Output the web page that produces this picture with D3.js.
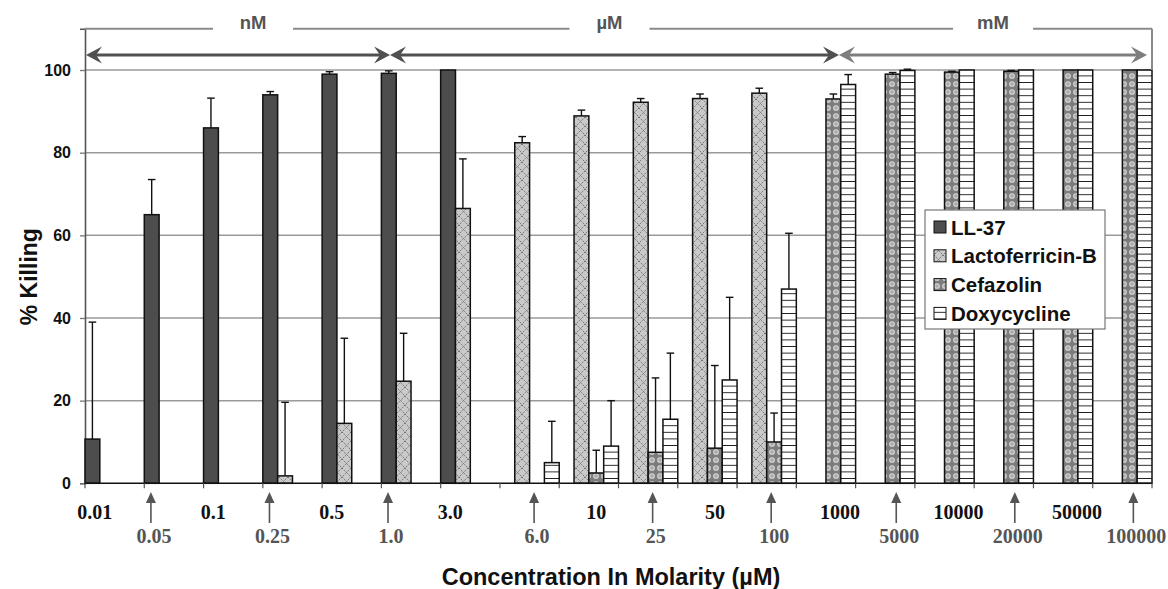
<!DOCTYPE html>
<html><head><meta charset="utf-8">
<script src="https://cdn.jsdelivr.net/npm/d3@7"></script>
<style>html,body{margin:0;padding:0;background:#fff;}svg{display:block;}</style>
</head><body>
<svg id="chart" width="1168" height="589"></svg>
<script>
// ---- data ----
const concentrations = ["0.01","0.05","0.1","0.25","0.5","1.0","3.0","6.0","10","25","50","100","1000","5000","10000","20000","50000","100000"];
const seriesNames = ["LL-37","Lactoferricin-B","Cefazolin","Doxycycline"];
const ll37      = [10.7, 65, 86, 94, 99, 99.2, 100, null, null, null, null, null, null, null, null, null, null, null];
const ll37Err   = [28.3, 8.5, 7.2, 0.8, 0.6, 0.6, 0, null, null, null, null, null, null, null, null, null, null, null];
const lacto     = [null, null, null, 1.8, 14.5, 24.7, 66.5, 82.4, 88.9, 92.2, 93.1, 94.4, null, null, null, null, null, null];
const lactoErr  = [null, null, null, 17.8, 20.6, 11.6, 12, 1.5, 1.4, 0.9, 1.1, 1.2, null, null, null, null, null, null];
const cefa      = [null, null, null, null, null, null, null, null, 2.5, 7.5, 8.5, 10, 93, 99, 99.5, 99.7, 100, 100];
const cefaErr   = [null, null, null, null, null, null, null, null, 5.5, 18, 20, 7, 1.2, 0.4, 0.2, 0.2, 0, 0];
const doxy      = [null, null, null, null, null, null, null, 5, 9, 15.5, 25, 47, 96.5, 99.9, 100, 100, 100, 100];
const doxyErr   = [null, null, null, null, null, null, null, 10, 11, 16, 20, 13.5, 2.4, 0.3, 0, 0, 0, 0];
const yTicks = [0, 20, 40, 60, 80, 100];
const unitRanges = [
  {unit: "nM", from: null, to: "1.0"},
  {unit: "\u00b5M", from: "1.0", to: "1000"},
  {unit: "mM", from: "1000", to: null}
];
const xTitle = "Concentration In Molarity (\u00b5M)";
const yTitle = "% Killing";

// ---- layout ----
const svg = d3.select("#chart");
const pLeft = 85, pRight = 1152, pTop = 28.7, pBottom = 483.3;
const x = d3.scaleBand().domain(concentrations).range([pLeft, pRight]).padding(0);
const xs = d3.scaleBand().domain(seriesNames).range([0, x.bandwidth()]).padding(0);
const y = d3.scaleLinear().domain([0, 110]).range([pBottom, pTop]);

// patterns
const defs = svg.append("defs");
const pL = defs.append("pattern").attr("id","pLacto").attr("patternUnits","userSpaceOnUse").attr("width",9).attr("height",9);
pL.append("rect").attr("width",9).attr("height",9).attr("fill","#c9c9c9");
pL.append("path").attr("d","M0,0L9,9M9,0L0,9").attr("stroke","#6a6a6a").attr("stroke-width",0.9).attr("stroke-dasharray","1.5,1");
const pC = defs.append("pattern").attr("id","pCefa").attr("patternUnits","userSpaceOnUse").attr("width",8).attr("height",8);
pC.append("rect").attr("width",8).attr("height",8).attr("fill","#7c7c7c");
pC.append("circle").attr("cx",4).attr("cy",4).attr("r",2.3).attr("fill","#a8a8a8").attr("stroke","#d8d8d8").attr("stroke-width",1.1);
const pD = defs.append("pattern").attr("id","pDoxy").attr("patternUnits","userSpaceOnUse").attr("width",8).attr("height",6.6);
pD.append("rect").attr("width",8).attr("height",6.6).attr("fill","#fff");
pD.append("line").attr("x1",0).attr("x2",8).attr("y1",3.3).attr("y2",3.3).attr("stroke","#222").attr("stroke-width",1);
const fills = {"LL-37":"#4d4d4d","Lactoferricin-B":"url(#pLacto)","Cefazolin":"url(#pCefa)","Doxycycline":"url(#pDoxy)"};

// gridlines
svg.append("g").selectAll("line").data(yTicks.filter(d => d > 0)).join("line")
  .attr("x1", pLeft).attr("x2", pRight).attr("y1", d => y(d)).attr("y2", d => y(d))
  .attr("stroke", "#9a9a9a").attr("stroke-width", 1.5);

// y axis
const yAxis = svg.append("g").attr("transform", `translate(${pLeft},0)`)
  .call(d3.axisLeft(y).tickValues(yTicks).tickSize(5).tickPadding(9).tickFormat(d3.format("d")));
yAxis.select(".domain").attr("stroke","#555").attr("stroke-width",1.6);
yAxis.selectAll(".tick line").attr("stroke","#777").attr("stroke-width",1.3);
yAxis.selectAll(".tick text").attr("font-family","Liberation Sans, Arial, sans-serif").attr("font-weight","bold").attr("font-size",16).attr("fill","#111");

// bars
const series = [
  {name:"LL-37", vals: ll37, errs: ll37Err},
  {name:"Lactoferricin-B", vals: lacto, errs: lactoErr},
  {name:"Cefazolin", vals: cefa, errs: cefaErr},
  {name:"Doxycycline", vals: doxy, errs: doxyErr}
];
const barData = [];
series.forEach(s => s.vals.forEach((v, i) => { if (v != null) barData.push({s: s.name, c: concentrations[i], v, e: s.errs[i]}); }));
const barG = svg.append("g");
barG.selectAll("rect").data(barData).join("rect")
  .attr("x", d => x(d.c) + xs(d.s)).attr("width", xs.bandwidth())
  .attr("y", d => y(d.v)).attr("height", d => y(0) - y(d.v))
  .attr("fill", d => fills[d.s]).attr("stroke", "#111").attr("stroke-width", 1.5);

// error bars (upper only)
const errG = svg.append("g").attr("stroke","#111").attr("stroke-width",1.4);
const errData = barData.filter(d => d.e > 0);
const bx = d => x(d.c) + xs(d.s) + xs.bandwidth()/2;
errG.selectAll("line.v").data(errData).join("line").attr("class","v")
  .attr("x1", bx).attr("x2", bx)
  .attr("y1", d => y(d.v)).attr("y2", d => y(d.v + d.e));
errG.selectAll("line.c").data(errData).join("line").attr("class","c")
  .attr("x1", d => bx(d) - 3.8).attr("x2", d => bx(d) + 3.8)
  .attr("y1", d => y(d.v + d.e)).attr("y2", d => y(d.v + d.e));

// x axis line + ticks at band boundaries
const boundaries = concentrations.map(c => x(c)).concat([pRight]);
svg.append("line").attr("x1", pLeft).attr("x2", pRight).attr("y1", y(0)).attr("y2", y(0)).attr("stroke","#111").attr("stroke-width",1.6);
svg.append("g").selectAll("line").data(boundaries).join("line")
  .attr("x1", d => d).attr("x2", d => d).attr("y1", y(0)).attr("y2", y(0) + 5).attr("stroke","#555").attr("stroke-width",1.2);

// x labels: alternating bold row and arrow row
function regionShift(i){ return i <= 6 ? -20 : (i <= 11 ? 7.5 : 14); }
const labelX = c => x(c) + x.bandwidth()/2 + regionShift(concentrations.indexOf(c));
const lab = svg.append("g").attr("font-family","Liberation Serif, Times New Roman, serif").attr("font-weight","bold").attr("font-size",20).attr("text-anchor","middle");
lab.selectAll("text.a").data(concentrations.filter((c,i) => i % 2 === 0)).join("text").attr("class","a")
  .attr("x", labelX).attr("y", 519).attr("fill","#111").text(d => d);
lab.selectAll("text.b").data(concentrations.filter((c,i) => i % 2 === 1)).join("text").attr("class","b")
  .attr("x", labelX).attr("y", 543).attr("fill","#555").text(d => d);
const arrG = svg.append("g");
concentrations.filter((c,i) => i % 2 === 1).forEach(c => {
  const cx = labelX(c) - 3;
  arrG.append("line").attr("x1", cx).attr("x2", cx).attr("y1", 523).attr("y2", 500).attr("stroke","#555").attr("stroke-width",1.6);
  arrG.append("path").attr("d", `M${cx},${492}L${cx-5},${503}L${cx+5},${503}Z`).attr("fill","#555");
});

// header frame and unit arrows
const hdrY = y(110), arrY = 55;
const textFont = "Liberation Sans, Arial, sans-serif";
const spans = unitRanges.map(u => ({unit: u.unit,
  x0: u.from ? labelX(u.from) - 1 : pLeft + 1,
  x1: u.to ? labelX(u.to) - 1 : pRight - 5}));
const hdr = svg.append("g");
let segStart = pLeft;
const gaps = spans.map(s => { const cx = (s.x0 + s.x1)/2 + (s.unit === "nM" ? 15 : (s.unit === "mM" ? 0 : -5)); return {cx, w: 80, unit: s.unit}; });
gaps.forEach(g => {
  hdr.append("line").attr("x1", segStart).attr("x2", g.cx - g.w/2).attr("y1", hdrY).attr("y2", hdrY).attr("stroke","#8a8a8a").attr("stroke-width",2);
  segStart = g.cx + g.w/2;
  hdr.append("text").attr("x", g.cx).attr("y", hdrY).attr("text-anchor","middle").attr("font-family",textFont)
    .attr("font-weight","bold").attr("font-size",18.5).attr("fill","#555").text(g.unit);
});
hdr.append("line").attr("x1", segStart).attr("x2", pRight).attr("y1", hdrY).attr("y2", hdrY).attr("stroke","#8a8a8a").attr("stroke-width",2);
hdr.append("line").attr("x1", pRight).attr("x2", pRight).attr("y1", hdrY).attr("y2", y(100)).attr("stroke","#8a8a8a").attr("stroke-width",2);

function arrowHead(g, tipX, dir, color){
  const L = 16, H = 8.5, N = 10;
  g.append("path").attr("d", `M${tipX},${arrY}L${tipX - dir*L},${arrY - H}L${tipX - dir*N},${arrY}L${tipX - dir*L},${arrY + H}Z`).attr("fill", color);
}
spans.forEach(s => {
  const color = s.unit === "mM" ? "#7e7e7e" : "#505050";
  hdr.append("line").attr("x1", s.x0 + 8).attr("x2", s.x1 - 8).attr("y1", arrY).attr("y2", arrY).attr("stroke", color).attr("stroke-width", 3);
  arrowHead(hdr, s.x0, -1, color);
  arrowHead(hdr, s.x1, 1, color);
});

// axis titles
svg.append("text").attr("x", 611).attr("y", 585).attr("text-anchor","middle")
  .attr("font-family",textFont).attr("font-weight","bold").attr("font-size",23.5).attr("fill","#111").text(xTitle);
svg.append("text").attr("transform", `translate(37,${(y(0)+y(100))/2}) rotate(-90)`).attr("text-anchor","middle")
  .attr("font-family",textFont).attr("font-weight","bold").attr("font-size",23).attr("fill","#111").text(yTitle);

// legend
const lg = svg.append("g").attr("transform","translate(925,210)");
lg.append("rect").attr("width",180).attr("height",119).attr("fill","#fff").attr("stroke","#777").attr("stroke-width",1.2);
seriesNames.forEach((n, i) => {
  const cy = 17 + i * 28.8;
  lg.append("rect").attr("x",9).attr("y",cy - 6).attr("width",12).attr("height",12).attr("fill",fills[n]).attr("stroke","#111").attr("stroke-width",1);
  lg.append("text").attr("x",26).attr("y",cy + 7.5).attr("font-family",textFont).attr("font-weight","bold").attr("font-size",20.5).attr("fill","#111").text(n);
});
</script>
</body></html>
